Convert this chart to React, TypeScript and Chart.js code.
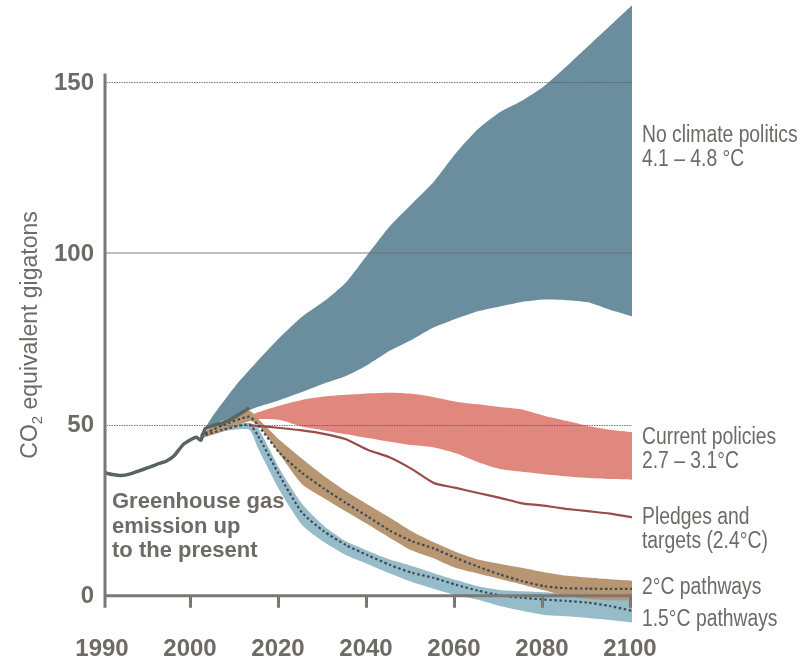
import React, { useEffect, useRef } from "react";
import { Chart, registerables } from "chart.js";

Chart.register(...registerables);

// ---------- DATA ----------
const tickYears = [1990, 2000, 2020, 2040, 2060, 2080, 2100];
const yTicks = [0, 50, 100, 150];

const histYears = [1990, 1991, 1992, 1993, 1994, 1995, 1996, 1997, 1998, 1999, 2000, 2001, 2002, 2003, 2005, 2007, 2010, 2013];
const histValues = [36.0, 35.4, 35.1, 35.6, 36.5, 37.4, 38.4, 39.2, 41.0, 44.2, 45.8, 46.3, 45.4, 48.8, 49.8, 50.5, 52.4, 54.8];

const noPolicyYears = [2003, 2005, 2010, 2015, 2020, 2025, 2030, 2035, 2040, 2045, 2050, 2055, 2060, 2065, 2070, 2075, 2080, 2085, 2090, 2095, 2100];
const noPolicyHigh = [49, 53, 61.5, 68.7, 75.5, 81.5, 86, 91.5, 99.8, 108, 114.5, 121, 129.3, 136.3, 141.3, 144.6, 148.8, 154.5, 160.5, 166.5, 172.5];
const noPolicyLow = [49, 50.1, 52.7, 55.2, 57.2, 59.5, 62, 64.2, 67.5, 71.6, 74.8, 78.4, 80.9, 83.1, 84.5, 85.8, 86.5, 86.3, 85.7, 83.5, 81.6];

const projYears = [2013, 2015, 2020, 2025, 2030, 2035, 2040, 2045, 2050, 2055, 2060, 2065, 2070, 2075, 2080, 2085, 2090, 2095, 2100];
const currentHigh = [52.5, 53.6, 55.6, 57.2, 58.2, 58.7, 59.1, 59.3, 59.0, 58.0, 56.7, 55.9, 55.1, 54.4, 52.6, 51.1, 49.6, 48.5, 47.8];
const currentLow = [51.0, 51.6, 51.3, 49.4, 48.3, 47.2, 46.1, 45.0, 44.0, 43.3, 41.6, 39.0, 37.0, 36.2, 35.5, 34.9, 34.4, 34.1, 33.9];
const pledges = [49.8, 49.6, 49.0, 48.3, 47.3, 45.7, 42.6, 40.4, 37.0, 32.9, 31.5, 30.0, 28.6, 27.0, 26.3, 25.4, 24.7, 24.0, 22.9];

const pathYears = [2002, 2007, 2013, 2015, 2020, 2025, 2030, 2035, 2040, 2045, 2050, 2055, 2060, 2065, 2070, 2075, 2080, 2085, 2090, 2095, 2100];
const twoHigh = [47.5, 50.5, 54.0, 51.7, 45.4, 40.0, 35.0, 30.5, 26.6, 22.8, 18.8, 15.6, 12.8, 10.6, 9.3, 8.2, 6.9, 5.9, 5.3, 4.8, 4.4];
const twoLow = [46.0, 48.0, 51.0, 50.0, 41.2, 32.6, 28.5, 24.6, 20.8, 16.9, 13.2, 10.9, 8.1, 6.5, 4.9, 3.3, 1.6, -0.1, -1.0, -1.3, -1.5];
const twoMid = [46.8, 49.8, 52.3, 49.8, 41.6, 35.9, 31.3, 27.1, 23.1, 19.0, 15.9, 13.8, 11.0, 8.5, 6.2, 4.3, 2.8, 2.2, 2.1, 2.0, 2.0];
const oneFiveHigh = [47.0, 49.0, 50.5, 49.0, 36.9, 26.9, 20.4, 15.9, 13.1, 10.6, 8.7, 6.6, 4.6, 2.8, 1.7, 1.3, 1.0, 0.6, 0.1, -0.5, -1.0];
const oneFiveLow = [46.0, 48.0, 48.5, 43.1, 30.6, 20.7, 15.7, 11.9, 9.2, 6.5, 4.0, 2.0, 0.2, -1.2, -3.0, -4.4, -5.6, -6.0, -6.5, -7.1, -7.8];
const oneFiveMid = [46.5, 48.5, 50.0, 46.7, 34.9, 24.3, 18.8, 14.8, 11.8, 9.0, 6.7, 5.2, 3.2, 1.5, 0.1, -0.6, -1.1, -1.5, -2.0, -3.0, -4.4];

const rightLabels: [string, number][] = [
  ["No climate politics", 136],
  ["4.1 – 4.8 °C", 160],
  ["Current policies", 438],
  ["2.7 – 3.1°C", 462],
  ["Pledges and", 518],
  ["targets (2.4°C)", 542],
  ["2°C pathways", 588],
  ["1.5°C pathways", 620],
];
const historyLabel = ["Greenhouse gas", "emission up", "to the present"];

// ---------- helpers ----------
// the original axis is stretched: 1990–2000 takes the same width as 20 years later on
const toPos = (yr: number) => (yr <= 2000 ? (yr - 1990) / 10 : 1 + (yr - 2000) / 20);
const pts = (years: number[], vals: number[]) => years.map((y, i) => ({ x: toPos(y), y: vals[i] }));

const TEXT = "#6e6a66";
const AXIS = "#7b7773";

export default function App() {
  const ref = useRef<HTMLCanvasElement | null>(null);

  useEffect(() => {
    document.body.style.margin = "0";
    const canvas = ref.current!;
    const band = (data: any, color: string, order: number) => ({
      data,
      fill: "+1",
      backgroundColor: color,
      borderWidth: 0,
      pointRadius: 0,
      tension: 0.2,
      order,
    });
    const lower = (data: any, order: number) => ({
      data,
      fill: false,
      borderWidth: 0,
      borderColor: "rgba(0,0,0,0)",
      pointRadius: 0,
      tension: 0.2,
      order,
    });

    const datasets: any[] = [
      band(pts(noPolicyYears, noPolicyHigh), "rgb(107,142,159)", 100),
      lower(pts(noPolicyYears, noPolicyLow), 99),
      band(pts(projYears, currentHigh), "rgb(224,136,125)", 90),
      lower(pts(projYears, currentLow), 89),
      band(pts(pathYears, oneFiveHigh), "rgb(150,188,202)", 80),
      lower(pts(pathYears, oneFiveLow), 79),
      band(pts(pathYears, twoHigh), "rgb(184,150,113)", 70),
      lower(pts(pathYears, twoLow), 69),
      {
        data: pts(projYears, pledges),
        borderColor: "#9c4b48",
        borderWidth: 2.2,
        pointRadius: 0,
        tension: 0.2,
        fill: false,
        order: 60,
      },
      {
        data: pts(pathYears, twoMid),
        borderColor: "#3e4954",
        borderWidth: 2.2,
        borderDash: [2.5, 2.5],
        pointRadius: 0,
        tension: 0.2,
        fill: false,
        order: 50,
      },
      {
        data: pts(pathYears, oneFiveMid),
        borderColor: "#3e4954",
        borderWidth: 2.2,
        borderDash: [2.5, 2.5],
        pointRadius: 0,
        tension: 0.2,
        fill: false,
        order: 49,
      },
      {
        data: pts(histYears, histValues),
        borderColor: "#58645e",
        borderWidth: 3.5,
        pointRadius: 0,
        tension: 0.15,
        fill: false,
        borderJoinStyle: "round",
        order: 40,
      },
    ];
    const PLEDGE_INDEX = 8;

    const deco = {
      id: "deco",
      beforeDatasetDraw(chart: any, args: any) {
        if (args.index !== PLEDGE_INDEX) return;
        const { ctx, scales } = chart;
        const xs = scales.x, ys = scales.y;
        const x0 = xs.getPixelForValue(0);
        const x1 = xs.right;
        ctx.save();
        ctx.strokeStyle = "rgba(80,80,80,0.75)";
        ctx.lineWidth = 1;
        ctx.setLineDash([1.5, 1]);
        for (const v of [150, 50]) {
          const y = Math.round(ys.getPixelForValue(v)) + 0.5;
          ctx.beginPath();
          ctx.moveTo(x0, y);
          ctx.lineTo(x1, y);
          ctx.stroke();
        }
        ctx.setLineDash([]);
        ctx.strokeStyle = "rgba(110,110,110,0.45)";
        ctx.lineWidth = 2;
        const y100 = Math.round(ys.getPixelForValue(100));
        ctx.beginPath();
        ctx.moveTo(x0, y100);
        ctx.lineTo(x1, y100);
        ctx.stroke();
        ctx.restore();
      },
      afterDatasetsDraw(chart: any) {
        const { ctx, scales } = chart;
        const xs = scales.x, ys = scales.y;
        const xLeft = xs.getPixelForValue(0);
        const xRight = xs.right;
        const y0 = ys.getPixelForValue(0);
        ctx.save();
        // axes
        ctx.strokeStyle = AXIS;
        ctx.lineWidth = 3;
        ctx.beginPath();
        ctx.moveTo(xLeft + 1, ys.getPixelForValue(152.5));
        ctx.lineTo(xLeft + 1, y0 + 12);
        ctx.stroke();
        ctx.beginPath();
        ctx.moveTo(xLeft, y0);
        ctx.lineTo(xRight, y0);
        ctx.stroke();
        for (const yr of tickYears) {
          if (yr === tickYears[0]) continue;
          const x = xs.getPixelForValue(toPos(yr)) - 1.5;
          ctx.beginPath();
          ctx.moveTo(x, y0);
          ctx.lineTo(x, y0 + 12);
          ctx.stroke();
        }
        // tick labels
        ctx.fillStyle = TEXT;
        ctx.font = "bold 24px 'Liberation Sans', Arial, sans-serif";
        ctx.textAlign = "right";
        ctx.textBaseline = "middle";
        for (const v of yTicks) {
          ctx.fillText(String(v), 94, ys.getPixelForValue(v) + 1);
        }
        ctx.textAlign = "center";
        for (const yr of tickYears) {
          ctx.fillText(String(yr), xs.getPixelForValue(toPos(yr)) - 2, 649);
        }
        // y title
        ctx.save();
        ctx.translate(37, 335);
        ctx.rotate(-Math.PI / 2);
        ctx.textBaseline = "alphabetic";
        ctx.textAlign = "left";
        const big = "23px 'Liberation Sans', Arial, sans-serif";
        const small = "15px 'Liberation Sans', Arial, sans-serif";
        ctx.font = big;
        const wCO = ctx.measureText("CO").width;
        const wRest = ctx.measureText(" equivalent gigatons").width;
        ctx.font = small;
        const w2 = ctx.measureText("2").width;
        let sx = -(wCO + w2 + wRest) / 2;
        ctx.font = big;
        ctx.fillText("CO", sx, 0);
        sx += wCO;
        ctx.font = small;
        ctx.fillText("2", sx, 5);
        sx += w2;
        ctx.font = big;
        ctx.fillText(" equivalent gigatons", sx, 0);
        ctx.restore();
        // history label
        ctx.font = "bold 22px 'Liberation Sans', Arial, sans-serif";
        ctx.textAlign = "left";
        ctx.textBaseline = "alphabetic";
        historyLabel.forEach((t, i) => ctx.fillText(t, 112, 508 + i * 24.5));
        // right labels (condensed look)
        ctx.font = "23px 'Liberation Sans', Arial, sans-serif";
        ctx.textBaseline = "middle";
        for (const [t, y] of rightLabels) {
          ctx.save();
          ctx.translate(642, y);
          ctx.scale(0.84, 1);
          ctx.fillText(t, 0, 0);
          ctx.restore();
        }
        ctx.restore();
      },
    };

    const chart = new Chart(canvas, {
      type: "line",
      data: { datasets },
      options: {
        responsive: false,
        animation: false,
        events: [],
        layout: { padding: { left: 104, right: 172, top: 0, bottom: 35 } },
        plugins: { legend: { display: false }, tooltip: { enabled: false } },
        scales: {
          x: { type: "linear", min: 0, max: 6, display: false },
          y: { type: "linear", min: -10, max: 174, display: false },
        },
      },
      plugins: [deco],
    } as any);
    return () => chart.destroy();
  }, []);

  return (
    <div style={{ width: 804, height: 665, background: "#fff" }}>
      <canvas ref={ref} width={804} height={665} style={{ display: "block" }} />
    </div>
  );
}
